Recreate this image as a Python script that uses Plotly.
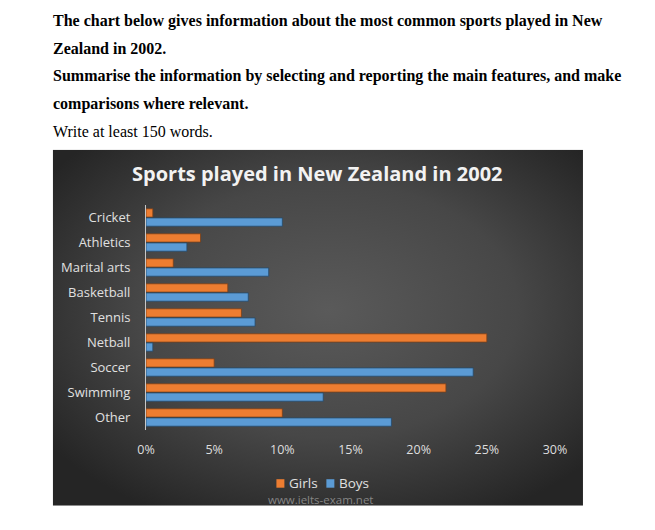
import base64
import plotly.graph_objects as go

# ---- data ----
categories = ["Cricket", "Athletics", "Marital arts", "Basketball", "Tennis",
              "Netball", "Soccer", "Swimming", "Other"]
girls = [0.5, 4, 2, 6, 7, 25, 5, 22, 10]
boys = [10, 3, 9, 7.5, 8, 0.5, 24, 13, 18]
series_names = ["Girls", "Boys"]
series_colors = ["#ED7D31", "#5B9BD5"]
x_tickvals = [0, 5, 10, 15, 20, 25, 30]
x_ticktext = ["0%", "5%", "10%", "15%", "20%", "25%", "30%"]

header_lines = [
    ("The chart below gives information about the most common sports played in New", True),
    ("Zealand in 2002.", True),
    ("Summarise the information by selecting and reporting the main features, and make", True),
    ("comparisons where relevant.", True),
    ("Write at least 150 words.", False),
]
chart_title = "Sports played in New Zealand in 2002"
watermark = "www.ielts-exam.net"

# ---- layout geometry (pixels) ----
W, H = 655, 530
PX0, PX1 = 146.0, 555.3   # plot area left/right
PY0, PY1 = 205.3, 430.3   # plot area top/bottom


def px(xp):
    return (xp - PX0) / (PX1 - PX0)


def py(yp):
    return (PY1 - yp) / (PY1 - PY0)


# background radial gradient (Excel dark chart style)
svg = (
    '<svg xmlns="http://www.w3.org/2000/svg" width="531" height="356" '
    'viewBox="0 0 531 356" preserveAspectRatio="none">'
    '<defs><radialGradient id="g" cx="52%" cy="45%" r="65%">'
    '<stop offset="0%" stop-color="#5a5a5a"/>'
    '<stop offset="55%" stop-color="#474747"/>'
    '<stop offset="100%" stop-color="#252525"/>'
    '</radialGradient></defs>'
    '<rect x="0" y="0" width="531" height="356" fill="url(#g)"/></svg>'
)
svg_uri = "data:image/svg+xml;base64," + base64.b64encode(svg.encode()).decode()

fig = go.Figure()
edge_colors = ["#7a4019", "#254a6b"]
for name, vals, col, edge in zip(series_names, [girls, boys], series_colors, edge_colors):
    fig.add_trace(go.Bar(
        y=categories, x=vals, name=name, orientation="h",
        marker=dict(color=col, line=dict(color=edge, width=0.8)),
        showlegend=False,
    ))

annotations = []
line_y = [21.5, 49.0, 76.5, 104.0, 131.5]
for (txt, bold), yy in zip(header_lines, line_y):
    annotations.append(dict(
        text=("<b>%s</b>" % txt) if bold else txt,
        x=px(51.0), y=py(yy), xref="paper", yref="paper",
        xanchor="left", yanchor="middle", showarrow=False,
        font=dict(family="Liberation Serif", size=16, color="#000000"),
    ))
annotations.append(dict(
    text="<b>%s</b>" % chart_title, x=px(318), y=py(173.5),
    xref="paper", yref="paper", xanchor="center", yanchor="middle",
    showarrow=False,
    font=dict(family="Open Sans", size=20, color="#f2f2f2"),
))
annotations.append(dict(
    text=watermark, x=px(320.5), y=py(499.5),
    xref="paper", yref="paper", xanchor="center", yanchor="middle",
    showarrow=False,
    font=dict(family="Open Sans", size=11.5, color="#858585"),
))

# compact legend (swatch + label), like the reference
shapes = []
legend_items = [(276.5, 287.0), (326.5, 337.0)]
for (sx, tx), name, col in zip(legend_items, series_names, series_colors):
    shapes.append(dict(
        type="rect", xref="paper", yref="paper",
        x0=px(sx), x1=px(sx + 8), y0=py(488.0), y1=py(479.5),
        fillcolor=col, line=dict(width=0),
    ))
    annotations.append(dict(
        text=name, x=px(tx), y=py(483.5), xref="paper", yref="paper",
        xanchor="left", yanchor="middle", showarrow=False,
        font=dict(family="Open Sans", size=13.5, color="#e0e0e0"),
    ))

fig.update_layout(
    width=W, height=H,
    margin=dict(l=PX0, r=W - PX1, t=PY0, b=H - PY1, pad=0),
    paper_bgcolor="#ffffff",
    plot_bgcolor="rgba(0,0,0,0)",
    barmode="group", bargap=0.27, bargroupgap=0.09,
    showlegend=False,
    images=[dict(
        source=svg_uri, xref="paper", yref="paper",
        x=px(52.7), y=py(150.0),
        sizex=(583.3 - 52.7) / (PX1 - PX0), sizey=(506.0 - 150.0) / (PY1 - PY0),
        xanchor="left", yanchor="top", sizing="stretch", layer="below",
    )],
    shapes=shapes,
    annotations=annotations,
    xaxis=dict(
        range=[0, 30], tickvals=x_tickvals, ticktext=x_ticktext,
        showgrid=False, zeroline=False, showline=False, ticks="",
        tickfont=dict(family="Open Sans", size=12.5, color="#dedede"),
        ticklabelstandoff=10, fixedrange=True,
    ),
    yaxis=dict(
        autorange="reversed", showgrid=False, zeroline=False,
        showline=True, linecolor="#c8c8c8", linewidth=1, ticks="",
        tickfont=dict(family="Open Sans", size=13, color="#e0e0e0"),
        ticklabelstandoff=12, fixedrange=True,
    ),
)

fig.write_html(
    "out.html",
    config={"displayModeBar": False},
    post_script="document.body.style.margin='0px';document.body.style.overflow='hidden';",
)
